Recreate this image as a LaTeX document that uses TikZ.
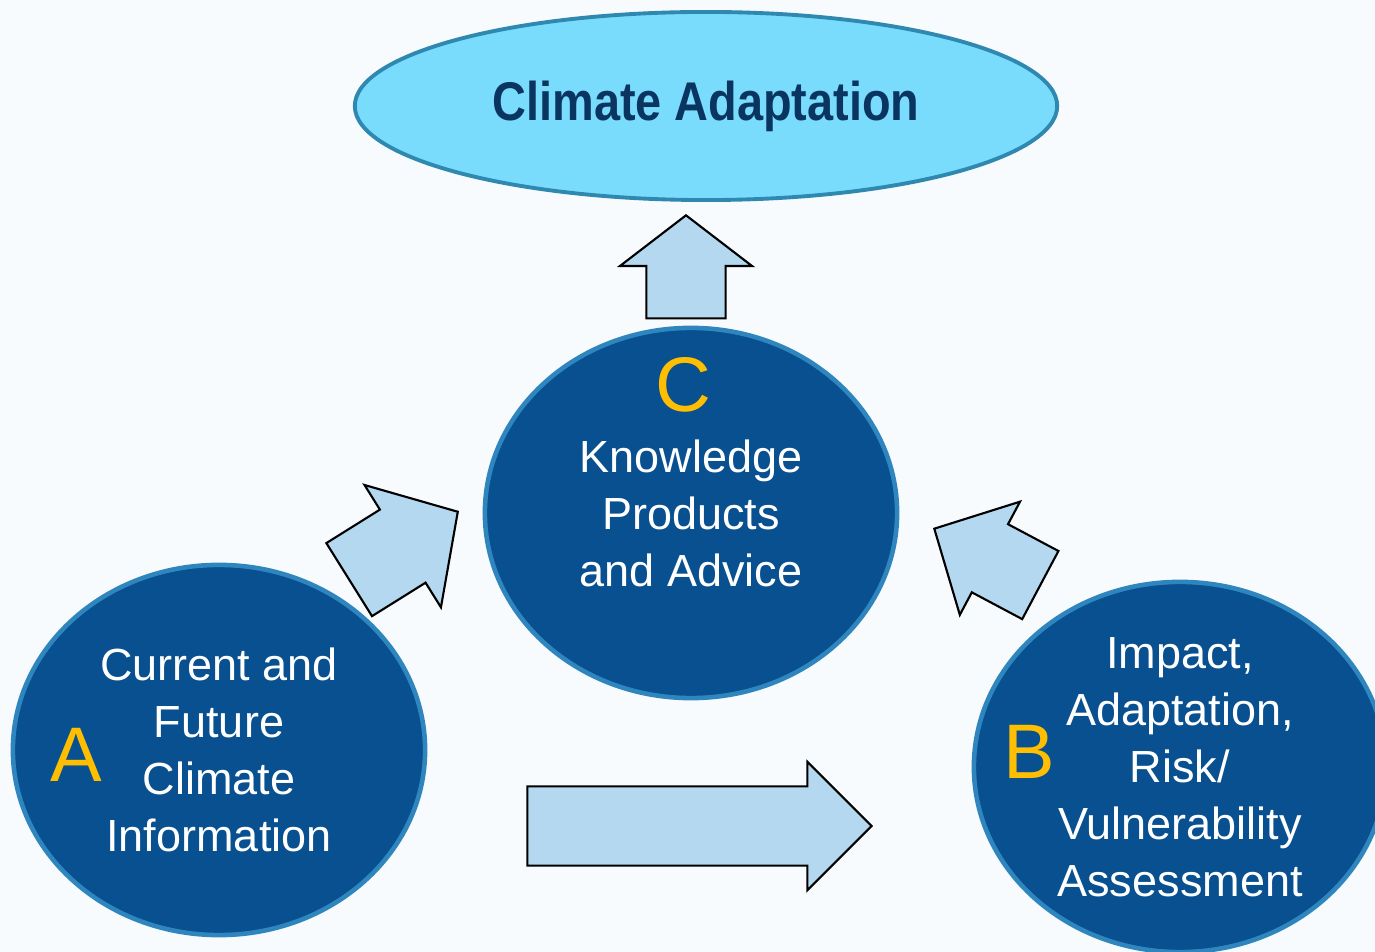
\documentclass[tikz,border=0pt]{standalone}
\usepackage{fontspec}
\setmainfont{Liberation Sans}
\usepackage{tikz}
\usetikzlibrary{shapes.geometric, shapes.arrows}

\definecolor{bgpale}{HTML}{F7FBFD}
\definecolor{goalfill}{HTML}{7ADCFC}
\definecolor{goalrim}{HTML}{2E88B0}
\definecolor{goaltext}{HTML}{0B3561}
\definecolor{stagefill}{HTML}{08508F}
\definecolor{stagerim}{HTML}{2F86BE}
\definecolor{tagyellow}{HTML}{FFBF00}
\definecolor{arfill}{HTML}{B4D8EF}

\begin{document}
\begin{tikzpicture}[
  x=0.01cm, y=-0.01cm,
  goal/.style={ellipse, draw=goalrim, line width=1.1pt, fill=goalfill, minimum width=7.02cm, minimum height=1.88cm, inner sep=0pt, font=\bfseries\fontsize{15.5}{18}\selectfont, text=goaltext},
  stage/.style={ellipse, draw=stagerim, line width=1.3pt, fill=stagefill, minimum width=4.12cm, minimum height=3.70cm, inner sep=0pt, align=center, text=white, font=\fontsize{12.8}{16.2}\selectfont},
  tag/.style={text=tagyellow, font=\fontsize{22}{22}\selectfont, inner sep=0pt},
  blockar/.style={single arrow, draw=black, line width=0.6pt, fill=arfill, inner xsep=0pt, anchor=tip}
]
\useasboundingbox (0,0) rectangle (1375,952);
\fill[bgpale] (0,0) rectangle (1375,952);
\clip (0,0) rectangle (1375,952);

% Goal at the top
\node[goal] (adapt) at (706,106) {\scalebox{0.86}[1]{Climate Adaptation}};

% The three stages
\node[stage] (know)     at (691,513)  {Knowledge\\Products\\and Advice};
\node[stage] (climinfo) at (219,750)  {Current and\\Future\\Climate\\Information};
\node[stage] (impact)   at (1180,767) {Impact,\\Adaptation,\\Risk/\\Vulnerability\\Assessment};

% Stage letters
\node[tag] (tagA) at (76,755)  {A};
\node[tag] (tagB) at (1029,752) {B};
\node[tag] (tagC) at (683,385) {C};

% Block arrows between the stages (shaft = 2 x inner ysep)
\node[blockar, rotate=90, minimum height=1.03cm, inner ysep=0.385cm,
      single arrow head extend=0.265cm, single arrow tip angle=105] (upar) at (686,214) {};
\node[blockar, minimum height=3.44cm, inner ysep=0.385cm,
      single arrow head extend=0.245cm] (rightar) at (873,826) {};
\node[blockar, rotate=32, minimum height=1.28cm, inner ysep=0.42cm,
      single arrow head extend=0.29cm, single arrow tip angle=96] (diagar) at (459,511) {};
\node[blockar, rotate=152, minimum height=1.20cm, inner ysep=0.375cm,
      single arrow head extend=0.255cm, single arrow tip angle=91] (backar) at (933,528) {};

\end{tikzpicture}
\end{document}
